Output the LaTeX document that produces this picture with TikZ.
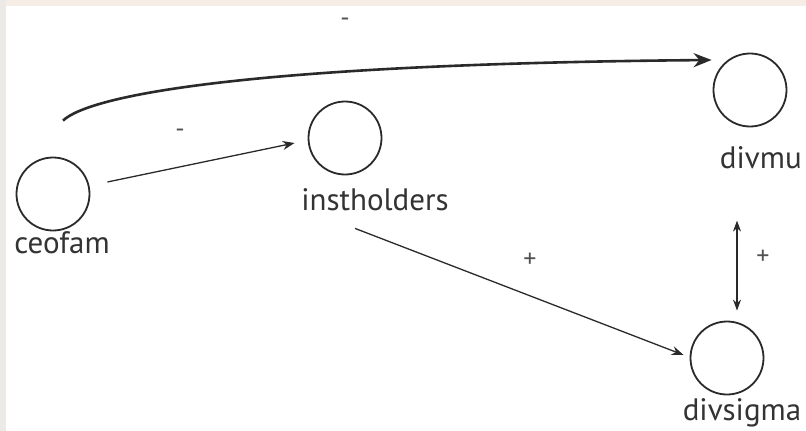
\documentclass[tikz,border=0pt]{standalone}
\usepackage{fontspec}
\setmainfont{PT Sans}
\usetikzlibrary{arrows.meta}
\definecolor{ink}{HTML}{2A2A2A}
\definecolor{txt}{HTML}{333333}
\definecolor{topband}{HTML}{F6EEE6}
\definecolor{leftband}{HTML}{ECEAE6}
\tikzset{
  var/.style={circle, draw=ink, line width=1.8pt, minimum size=73pt, inner sep=0pt},
  vlabel/.style={anchor=base, text=txt, inner sep=0pt, font=\fontsize{31}{31}\selectfont},
  sign/.style={text=txt!85, inner sep=0pt, font=\fontsize{26}{26}\selectfont},
  thinarrow/.style={draw=ink, line width=1.3pt, -{Stealth[length=12pt,width=9pt]}},
  thickarrow/.style={draw=ink, line width=2.6pt, -{Stealth[length=18pt,width=14pt]}},
  botharrow/.style={draw=ink, line width=1.3pt, {Stealth[length=11pt,width=8pt]}-{Stealth[length=11pt,width=8pt]}}
}
\begin{document}
\begin{tikzpicture}[x=1pt,y=-1pt]
\useasboundingbox (0,0) rectangle (806,431);
\fill[white] (0,0) rectangle (806,431);
\fill[topband] (0,0) rectangle (806,6);
\fill[leftband] (0,0) rectangle (6,431);

\node[var] (ceofam) at (53,194) {};
\node[var] (instholders) at (345,138) {};
\node[var] (divmu) at (750,90) {};
\node[var] (divsigma) at (727,358) {};

\node[vlabel] (lceofam) at (62,253) {ceofam};
\node[vlabel] (linstholders) at (375,210) {instholders};
\node[vlabel, anchor=base east] (ldivmu) at (802,168) {divmu};
\node[vlabel] (ldivsigma) at (742,420) {divsigma};

\draw[thickarrow] ([xshift=10pt,yshift=36pt]ceofam.north) .. controls (90,95) and (250,64) .. ([xshift=-1pt,yshift=30pt]divmu.west);
\draw[thinarrow] ([xshift=17pt,yshift=12pt]ceofam.east) -- ([xshift=-13pt,yshift=-5pt]instholders.west);
\draw[thinarrow] ([xshift=10pt,yshift=-53pt]instholders.south) -- ([xshift=-6pt,yshift=3pt]divsigma.west);
\draw[botharrow] ([xshift=10pt,yshift=100pt]divsigma.north) -- ([xshift=10pt,yshift=10pt]divsigma.north);

\node[sign] (s1) at (345,22) {-};
\node[sign] (s2) at (180,133) {-};
\node[sign] (s3) at (530,260) {+};
\node[sign] (s4) at (763,257) {+};
\end{tikzpicture}
\end{document}
